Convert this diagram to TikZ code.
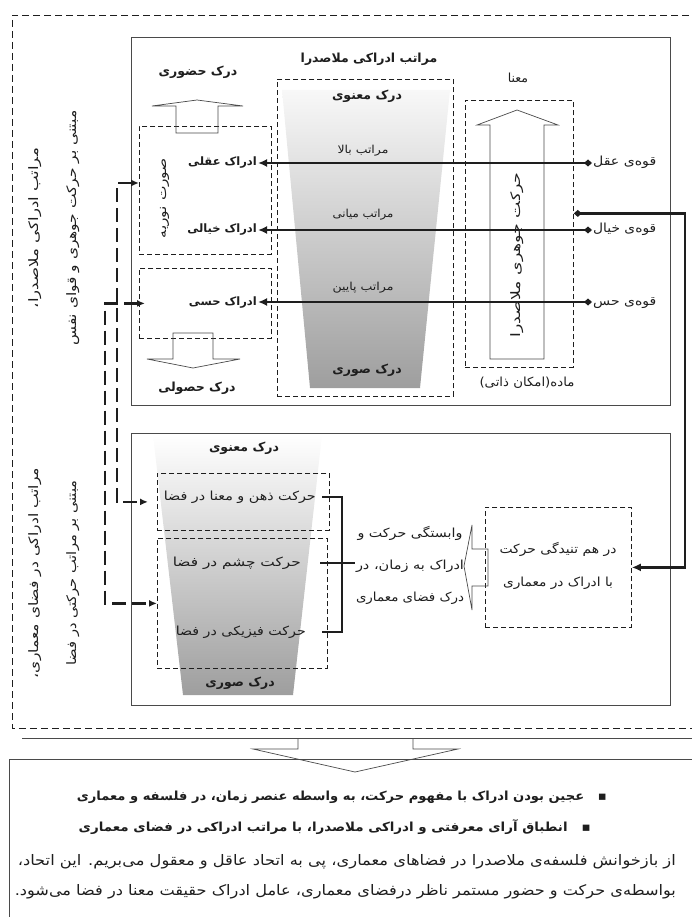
\documentclass[tikz,border=0pt]{standalone}
\usepackage{fontspec}
\usepackage{graphicx}
\newfontfamily\fafont[Script=Arabic]{DejaVu Sans}
\TeXXeTstate=1
\definecolor{ink}{HTML}{1E1E1E}
\definecolor{frameGray}{HTML}{4A4A4A}
\definecolor{shadeTop}{HTML}{F8F8F8}
\definecolor{shadeBot}{HTML}{9E9E9E}
\usetikzlibrary{calc,positioning,arrows.meta,shapes.geometric}
\newcommand{\fa}[1]{\beginR #1\endR}

\begin{document}
\begin{tikzpicture}[x=1pt, y=-1pt,
  lbl/.style={font=\fafont\fontsize{12.5}{14}\selectfont, text=ink, inner sep=1pt, text height=10pt, text depth=4pt},
  lblb/.style={lbl, font=\fafont\bfseries\fontsize{12.5}{14}\selectfont},
  lbls/.style={lbl, font=\fafont\fontsize{11}{13}\selectfont},
  vlbl/.style={lbl, rotate=90, font=\fafont\fontsize{13}{15}\selectfont},
  frame/.style={draw=frameGray, line width=0.8pt},
  dbox/.style={draw=ink, line width=0.8pt, dash pattern=on 5pt off 3pt, minimum width=#1, anchor=north west, inner sep=0pt},
  outerdsh/.style={draw=ink, line width=0.8pt, dash pattern=on 7pt off 4pt},
  hollow/.style={draw=frameGray, line width=0.7pt},
  thk/.style={line width=2.6pt, ink},
  longdsh/.style={line width=2.2pt, ink, dash pattern=on 14pt off 6pt},
  bar/.style={line width=2.4pt, ink}
]
\useasboundingbox (0,0) rectangle (691,917);

% outer frame and the two panels
\draw[outerdsh] (700,15) -| (12,728) -- (700,728);
\draw[frame] (131,37) rectangle (670,405);
\draw[frame] (131,433) rectangle (670,705);

% shaded wedges
\shade[top color=shadeTop, bottom color=shadeBot] (282,90) -- (450,90) -- (420,388) -- (310,388) -- cycle;
\shade[top color=white, bottom color=shadeBot] (153,435) -- (322,435) -- (293,695) -- (183,695) -- cycle;

% dashed boxes
\node[dbox=132pt, minimum height=128pt] (sbox) at (139,126) {};
\node[dbox=132pt, minimum height=70pt] (hbox) at (139,268) {};
\node[dbox=176pt, minimum height=317pt] (mid) at (277,79) {};
\node[dbox=108pt, minimum height=267pt] (mbox) at (465,100) {};
\node[dbox=172pt, minimum height=57pt] (zbox) at (157,473) {};
\node[dbox=170pt, minimum height=130pt] (cbox) at (157,538) {};
\node[dbox=146pt, minimum height=120pt] (tbox) at (485,507) {};

% hollow arrows
\draw[hollow] (176,133) -- (176,106) -- (152,106) -- (197,100) -- (243,106) -- (218,106) -- (218,133) -- cycle;
\draw[hollow] (173,333) -- (173,359) -- (147,359) -- (193,368) -- (240,359) -- (213,359) -- (213,333) -- cycle;
\draw[hollow] (490,359) -- (490,125) -- (477,125) -- (517,110) -- (558,125) -- (544,125) -- (544,359) -- cycle;
\draw[hollow] (488,549) -- (472,549) -- (472,525) -- (464,566) -- (472,610) -- (472,586) -- (488,586) -- cycle;

% top panel texts
\node[lblb] (title) at (369,60) {\beginR مراتب ادراکی ملاصدرا\endR};
\node[lblb] (hozuri) at (198,73) {\beginR درک حضوری\endR};
\node[lblb] (hosuli) at (197,388) {\beginR درک حصولی\endR};
\node[lblb] (manavi) at (367,97) {\beginR درک معنوی\endR};
\node[lblb] (suri) at (367,370) {\beginR درک صوری\endR};
\node[lbls] (bala) at (363,151) {\resizebox{51pt}{\height}{\beginR مراتب بالا\endR}};
\node[lbls] (miani) at (363,215) {\resizebox{61pt}{\height}{\beginR مراتب میانی\endR}};
\node[lbls] (paein) at (363,287) {\resizebox{61pt}{\height}{\beginR مراتب پایین\endR}};
\node[lbl] (mana) at (518,80) {\beginR معنا\endR};
\node[lbl] (madde) at (527,383) {\resizebox{95pt}{\height}{\beginR ماده(امکان ذاتی)\endR}};
\node[vlbl] (jowhari) at (517,255) {\resizebox{165pt}{\height}{\beginR حرکت جوهری ملاصدرا\endR}};
\node[vlbl, font=\fafont\fontsize{12.5}{14}\selectfont] (surat) at (163,198) {\resizebox{80pt}{\height}{\beginR صورت نوریه\endR}};
\node[lblb, font=\fafont\bfseries\fontsize{11.5}{14}\selectfont, anchor=east] (aqli) at (258,163) {\beginR ادراک عقلی\endR};
\node[lblb, font=\fafont\bfseries\fontsize{11.5}{14}\selectfont, anchor=east] (khiali) at (258,230) {\beginR ادراک خیالی\endR};
\node[lblb, font=\fafont\bfseries\fontsize{11.5}{14}\selectfont, anchor=east] (hessi) at (258,302) {\beginR ادراک حسی\endR};
\node[lbl, anchor=west] (qaql) at (592,163) {\resizebox{63pt}{\height}{\beginR قوه‌ی عقل\endR}};
\node[lbl, anchor=west] (qkhial) at (592,230) {\resizebox{63pt}{\height}{\beginR قوه‌ی خیال\endR}};
\node[lbl, anchor=west] (qhes) at (592,302) {\resizebox{63pt}{\height}{\beginR قوه‌ی حس\endR}};

% side captions
\node[vlbl] (capA1) at (35,228) {\resizebox{160pt}{\height}{\beginR مراتب ادراکی ملاصدرا،\endR}};
\node[vlbl] (capA2) at (73,228) {\resizebox{235pt}{\height}{\beginR مبتنی بر حرکت جوهری و قوای نفس\endR}};
\node[vlbl] (capB1) at (35,573) {\resizebox{210pt}{\height}{\beginR مراتب ادراکی در فضای معماری،\endR}};
\node[vlbl] (capB2) at (73,573) {\resizebox{185pt}{\height}{\beginR مبتنی بر مراتب حرکتی در فضا\endR}};

% bottom panel texts
\node[lblb] (manavi2) at (244,448) {\beginR درک معنوی\endR};
\node[lblb] (suri2) at (240,683) {\beginR درک صوری\endR};
\node[lbl, anchor=east] (zhen) at (317,497) {\resizebox{152pt}{\height}{\beginR حرکت ذهن و معنا در فضا\endR}};
\node[lbl, anchor=east] (cheshm) at (302,563) {\resizebox{128pt}{\height}{\beginR حرکت چشم در فضا\endR}};
\node[lbl, anchor=east] (fiz) at (307,632) {\resizebox{130pt}{\height}{\beginR حرکت فیزیکی در فضا\endR}};
\node[lbl, align=center, font=\fafont\fontsize{12.5}{32}\selectfont, text height=, text depth=] (vab) at (410,565)
  {\resizebox{105pt}{\height}{\beginR وابستگی حرکت و\endR}\\ \resizebox{108pt}{\height}{\beginR ادراک به زمان، در\endR}\\ \resizebox{108pt}{\height}{\beginR درک فضای معماری\endR}};
\node[lbl, align=center, font=\fafont\fontsize{12.5}{33}\selectfont, text height=, text depth=] (tanid) at (558,566)
  {\resizebox{117pt}{\height}{\beginR در هم تنیدگی حرکت\endR}\\ \resizebox{110pt}{\height}{\beginR با ادراک در معماری\endR}};

% connectors, top panel
\draw[thk, {Diamond[length=8pt,width=7pt]}-{Latex[length=9pt,width=8pt]}] (qaql.west) -- (aqli.east);
\draw[thk, {Diamond[length=8pt,width=7pt]}-{Latex[length=9pt,width=8pt]}] (qkhial.west) -- (khiali.east);
\draw[thk, {Diamond[length=8pt,width=7pt]}-{Latex[length=9pt,width=8pt]}] (qhes.west) -- (hessi.east);
\draw[thk, {Diamond[length=8pt,width=7pt]}-{Latex[length=9pt,width=8pt]}] ([yshift=20.5pt]mbox.east) -- ++(111,0) |- (tbox.east);

% connectors, left side
\coordinate (lA) at (117,183);
\coordinate (lB) at (105,300);
\draw[longdsh, {Latex[length=8pt,width=7pt]}-{Latex[length=8pt,width=7pt]}] (sbox.west |- lA) -- (lA) |- ([xshift=-9pt]zbox.west);
\draw[longdsh, {Latex[length=8pt,width=7pt]}-{Latex[length=8pt,width=7pt]}] ([xshift=6pt]hbox.west) -- (hbox.west -| lB) |- (cbox.west);

% bracket, bottom panel
\coordinate (brB) at (342,632);
\draw[bar] ([xshift=5pt]zhen.east) -| (brB) -- ([xshift=15pt]fiz.east);
\draw[bar] ([xshift=18pt]cheshm.east) -- (cheshm.east -| vab.west);

% summary
\draw[frame] (22,738) -- (700,738);
\draw[frame] (9,759) rectangle (700,930);
\draw[hollow] (298,738) -- (298,749) -- (253,749) -- (355,772) -- (458,749) -- (413,749) -- (413,738);
\node[lblb, anchor=east, font=\fafont\bfseries\fontsize{12.5}{14}\selectfont] (pt1) at (608,797) {\resizebox{530pt}{\height}{\beginR ▪\ \ \ عجین بودن ادراک با مفهوم حرکت، به واسطه عنصر زمان، در فلسفه و معماری\endR}};
\node[lblb, anchor=east, font=\fafont\bfseries\fontsize{12.5}{14}\selectfont] (pt2) at (592,828) {\resizebox{512pt}{\height}{\beginR ▪\ \ \ انطباق آرای معرفتی و ادراکی ملاصدرا، با مراتب ادراکی در فضای معماری\endR}};
\node[lbl, anchor=east, font=\fafont\fontsize{14.5}{16}\selectfont] (par1) at (677,862) {\resizebox{658pt}{\height}{\beginR از بازخوانش فلسفه‌ی ملاصدرا در فضاهای معماری، پی به اتحاد عاقل و معقول می‌بریم. این اتحاد،\endR}};
\node[lbl, anchor=east, font=\fafont\fontsize{14.5}{16}\selectfont] (par2) at (677,892) {\resizebox{661pt}{\height}{\beginR بواسطه‌ی حرکت و حضور مستمر ناظر درفضای معماری، عامل ادراک حقیقت معنا در فضا می‌شود.\endR}};
\end{tikzpicture}
\end{document}
